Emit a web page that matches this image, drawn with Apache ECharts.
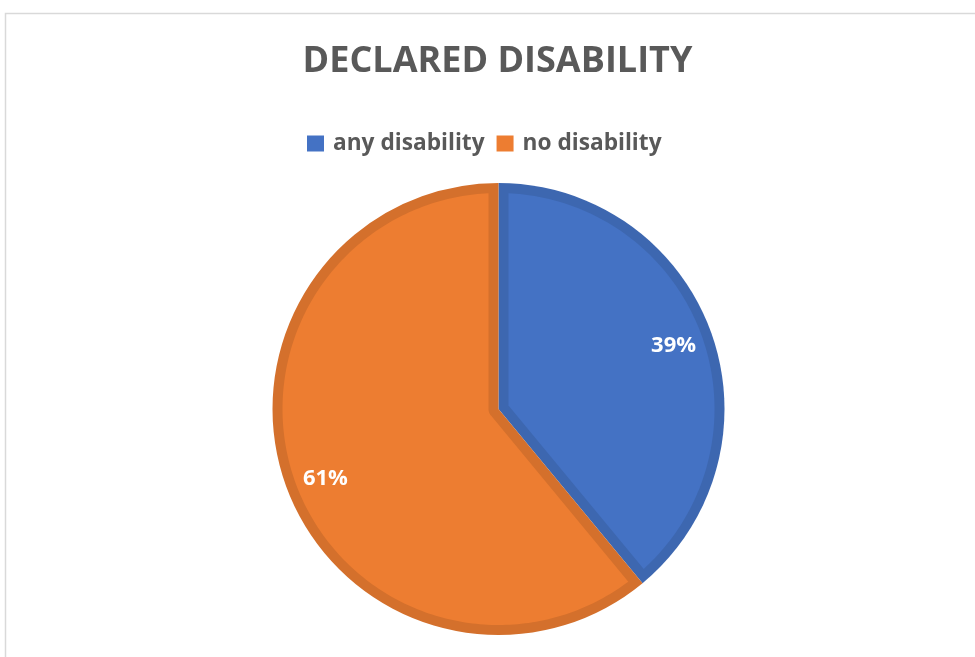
<!DOCTYPE html>
<html>
<head>
<meta charset="utf-8">
<title>Declared disability</title>
<script src="https://cdn.jsdelivr.net/npm/echarts@6/dist/echarts.min.js"></script>
<style>
  html, body { margin: 0; padding: 0; background: #ffffff; }
  #chart { width: 975px; height: 657px; }
</style>
</head>
<body>
<div id="chart"></div>
<script>
// Share of respondents by declared disability status (percent)
const categories = ['any disability', 'no disability'];
const shares = [39, 61];
const fillColors = ['#4472C4', '#ED7D31'];
const edgeColors = ['#3D67B0', '#D4702C'];

// Layout of the pie in pixels
const PIE_CENTER = [498.5, 409];
const PIE_RADIUS = 226;
const INSET = 10;          // width of the darker rim on each slice
const FONT = '"Open Sans", "Noto Sans", sans-serif';
const TEXT_GREY = '#595959';

// Lighter inner face of a slice: the slice eroded by INSET on every side
function insetFace(params, api) {
  const i = params.dataIndex;
  const total = shares.reduce((a, b) => a + b, 0);
  let before = 0;
  for (let k = 0; k < i; k++) before += shares[k];
  const a0 = before / total * 2 * Math.PI;
  const a1 = (before + shares[i]) / total * 2 * Math.PI;
  const cx = PIE_CENTER[0], cy = PIE_CENTER[1];
  const R = PIE_RADIUS, d = INSET;
  const dir = a => [Math.sin(a), -Math.cos(a)];   // clockwise from 12 o'clock
  const at = (a, r) => [cx + r * Math.sin(a), cy - r * Math.cos(a)];
  const onEdge = (a, n, s) => {
    const u = dir(a), v = dir(n);
    return [cx + s * u[0] + d * v[0], cy + s * u[1] + d * v[1]];
  };
  const t = Math.sqrt((R - d) * (R - d) - d * d);
  const off = Math.atan2(d, t);
  const theta = a1 - a0;
  const pts = [];
  if (theta < Math.PI) {
    const m = (a0 + a1) / 2;
    pts.push(at(m, d / Math.sin(theta / 2)));
  } else {
    pts.push(onEdge(a0, a0 + Math.PI / 2, 0));
  }
  pts.push(onEdge(a0, a0 + Math.PI / 2, t));
  const steps = Math.max(8, Math.ceil((theta - 2 * off) / (Math.PI / 180)));
  for (let s = 0; s <= steps; s++) {
    pts.push(at(a0 + off + (theta - 2 * off) * s / steps, R - d));
  }
  pts.push(onEdge(a1, a1 - Math.PI / 2, t));
  if (theta >= Math.PI) {
    const b1 = a1 - Math.PI / 2, b0 = a0 + Math.PI / 2;
    for (let s = 0; s <= 24; s++) {
      pts.push(at(b1 + (b0 - b1) * s / 24, d));
    }
  }
  return {
    type: 'polygon',
    shape: { points: pts },
    style: { fill: fillColors[i] }
  };
}

// Per-slice nudges of the percentage labels, in pixels
const labelNudge = [{ dx: 0, dy: 0 }, { dx: 2, dy: 7 }];

const chart = echarts.init(document.getElementById('chart'), null, { renderer: 'canvas' });

chart.setOption({
  animation: false,
  backgroundColor: '#ffffff',
  graphic: [{
    type: 'rect',
    silent: true,
    z: -10,
    shape: { x: 5.5, y: 13.5, width: 1200, height: 1200 },
    style: { fill: '#ffffff', stroke: '#D9D9D9', lineWidth: 1.5 }
  }],
  title: {
    text: 'DECLARED DISABILITY',
    left: 497.5,
    textAlign: 'center',
    top: 44,
    padding: 0,
    textStyle: {
      fontFamily: FONT,
      fontSize: 36,
      fontWeight: 'bold',
      color: TEXT_GREY,
      lineHeight: 36
    }
  },
  legend: {
    data: categories.map((name, i) => ({ name, itemStyle: { color: fillColors[i] } })),
    left: 307,
    top: 132,
    padding: 0,
    icon: 'rect',
    itemWidth: 17,
    itemHeight: 16,
    itemGap: 12,
    textStyle: {
      fontFamily: FONT,
      fontSize: 22.7,
      fontWeight: 'bold',
      color: TEXT_GREY,
      lineHeight: 22,
      padding: [0, 0, 0, 4]
    },
    selectedMode: false
  },
  series: [
    {
      // darker rim of each slice
      type: 'pie',
      z: 1,
      center: PIE_CENTER,
      radius: PIE_RADIUS,
      startAngle: 90,
      clockwise: true,
      silent: true,
      label: { show: false },
      labelLine: { show: false },
      emphasis: { disabled: true },
      data: categories.map((name, i) => ({
        name, value: shares[i], itemStyle: { color: edgeColors[i] }
      }))
    },
    {
      // lighter face inside the rim
      type: 'custom',
      z: 2,
      coordinateSystem: 'none',
      silent: true,
      renderItem: insetFace,
      data: shares
    },
    {
      // percentage labels
      type: 'pie',
      z: 3,
      center: PIE_CENTER,
      radius: [PIE_RADIUS * 0.62, PIE_RADIUS],
      startAngle: 90,
      clockwise: true,
      silent: true,
      itemStyle: { color: 'rgba(0,0,0,0)' },
      emphasis: { disabled: true },
      labelLine: { show: false },
      label: {
        show: true,
        position: 'inside',
        formatter: '{d}%',
        fontFamily: FONT,
        fontSize: 22,
        fontWeight: 'bold',
        color: '#ffffff'
      },
      labelLayout: params => labelNudge[params.dataIndex],
      data: categories.map((name, i) => ({ name, value: shares[i] }))
    }
  ]
});
</script>
</body>
</html>
